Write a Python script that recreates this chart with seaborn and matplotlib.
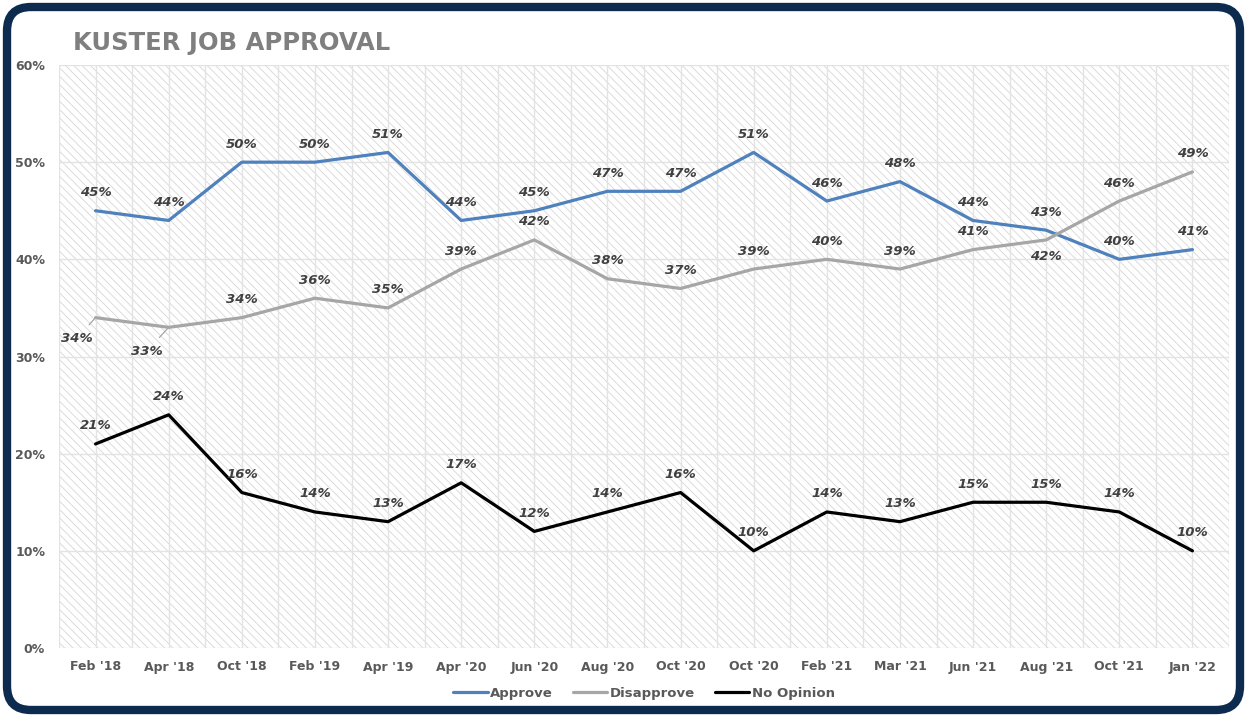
import matplotlib
matplotlib.use("Agg")
import matplotlib.pyplot as plt
import seaborn as sns
import pandas as pd
import numpy as np
from matplotlib.patches import FancyBboxPatch, Rectangle
from matplotlib.transforms import IdentityTransform

categories = ["Feb '18", "Apr '18", "Oct '18", "Feb '19", "Apr '19", "Apr '20", "Jun '20",
              "Aug '20", "Oct '20", "Oct '20", "Feb '21", "Mar '21", "Jun '21", "Aug '21",
              "Oct '21", "Jan '22"]
approve = [45, 44, 50, 50, 51, 44, 45, 47, 47, 51, 46, 48, 44, 43, 40, 41]
disapprove = [34, 33, 34, 36, 35, 39, 42, 38, 37, 39, 40, 39, 41, 42, 46, 49]
no_opinion = [21, 24, 16, 14, 13, 17, 12, 14, 16, 10, 14, 13, 15, 15, 14, 10]
series_names = ["Approve", "Disapprove", "No Opinion"]
y_ticks = [0, 10, 20, 30, 40, 50, 60]
title = "KUSTER JOB APPROVAL"

colors = {"Approve": "#4f81bd", "Disapprove": "#a6a6a6", "No Opinion": "#000000"}

sns.set_theme(style="white")
plt.rcParams["font.family"] = ["DejaVu Sans"]
plt.rcParams["hatch.linewidth"] = 0.6
plt.rcParams["hatch.color"] = "#d6d6d6"

rows = []
for name, vals in zip(series_names, [approve, disapprove, no_opinion]):
    for i, v in enumerate(vals):
        rows.append({"pos": i, "value": v, "series": name})
df = pd.DataFrame(rows)

fig = plt.figure(figsize=(12.47, 7.17), dpi=100)
fig.patch.set_facecolor("white")

# navy rounded border (pixel coordinates)
border = FancyBboxPatch((7, 7), 1233, 703, boxstyle="round,pad=0,rounding_size=24",
                        transform=IdentityTransform(), facecolor="white",
                        edgecolor="#0c2b4e", linewidth=6.0, zorder=-5)
fig.patches.append(border)

ax = fig.add_axes([59 / 1247, 1 - 648 / 717, (1229 - 59) / 1247, (648 - 65) / 717])
ax.set_zorder(2)
ax.set_facecolor("white")
ax.add_patch(Rectangle((0, 0), 1, 1, transform=ax.transAxes, facecolor="white",
                       edgecolor="#d6d6d6", hatch="\\\\\\\\", linewidth=0, zorder=0))

# gridlines
for k in np.arange(-0.5, len(categories), 0.5):
    ax.axvline(k, color="#e3e3e3", lw=1.0, zorder=1)
for t in y_ticks:
    ax.axhline(t, color="#e3e3e3", lw=1.0, zorder=1)

sns.lineplot(data=df, x="pos", y="value", hue="series", palette=colors,
             hue_order=series_names, linewidth=2.3, ax=ax, zorder=3)

ax.set_xlim(-0.5, len(categories) - 0.5)
ax.set_ylim(0, 60)
ax.set_xticks(range(len(categories)))
ax.set_xticklabels(categories)
ax.set_yticks(y_ticks)
ax.set_yticklabels([f"{t}%" for t in y_ticks])
ax.set_xlabel("")
ax.set_ylabel("")
for s in ax.spines.values():
    s.set_visible(False)
ax.tick_params(axis="both", length=0, labelsize=9, colors="#595959")
ax.tick_params(axis="x", pad=9)
ax.tick_params(axis="y", pad=10)
for lab in ax.get_xticklabels() + ax.get_yticklabels():
    lab.set_fontweight("bold")

# data labels
special = {("Disapprove", 0): (-19, -21, True), ("Disapprove", 1): (-22, -24, True),
           ("Disapprove", 13): (0, -17, False)}
for name, vals in zip(series_names, [approve, disapprove, no_opinion]):
    for i, v in enumerate(vals):
        dx, dy, leader = special.get((name, i), (0, 18, False))
        kw = {}
        if leader:
            kw["arrowprops"] = dict(arrowstyle="-", color="#a6a6a6", lw=0.9,
                                    shrinkA=4, shrinkB=1)
        ax.annotate(f"{v}%", (i, v), xytext=(dx, dy), textcoords="offset pixels",
                    ha="center", va="center", fontsize=9.5, fontweight="bold",
                    fontstyle="italic", color="#404040", zorder=5, **kw)

handles, labels = ax.get_legend_handles_labels()
ax.legend(handles, labels, loc="center", bbox_to_anchor=(0.5, (648 - 693) / 583),
          ncol=3, frameon=False, handlelength=2.6, handletextpad=0.2,
          columnspacing=1.5, labelcolor="#595959", prop={"weight": "bold", "size": 9.5})

fig.text(73 / 1247, 1 - 43 / 717, title, fontsize=17.5, fontweight="bold",
         color="#7f7f7f", ha="left", va="center")

fig.savefig("out.png", dpi=100)
